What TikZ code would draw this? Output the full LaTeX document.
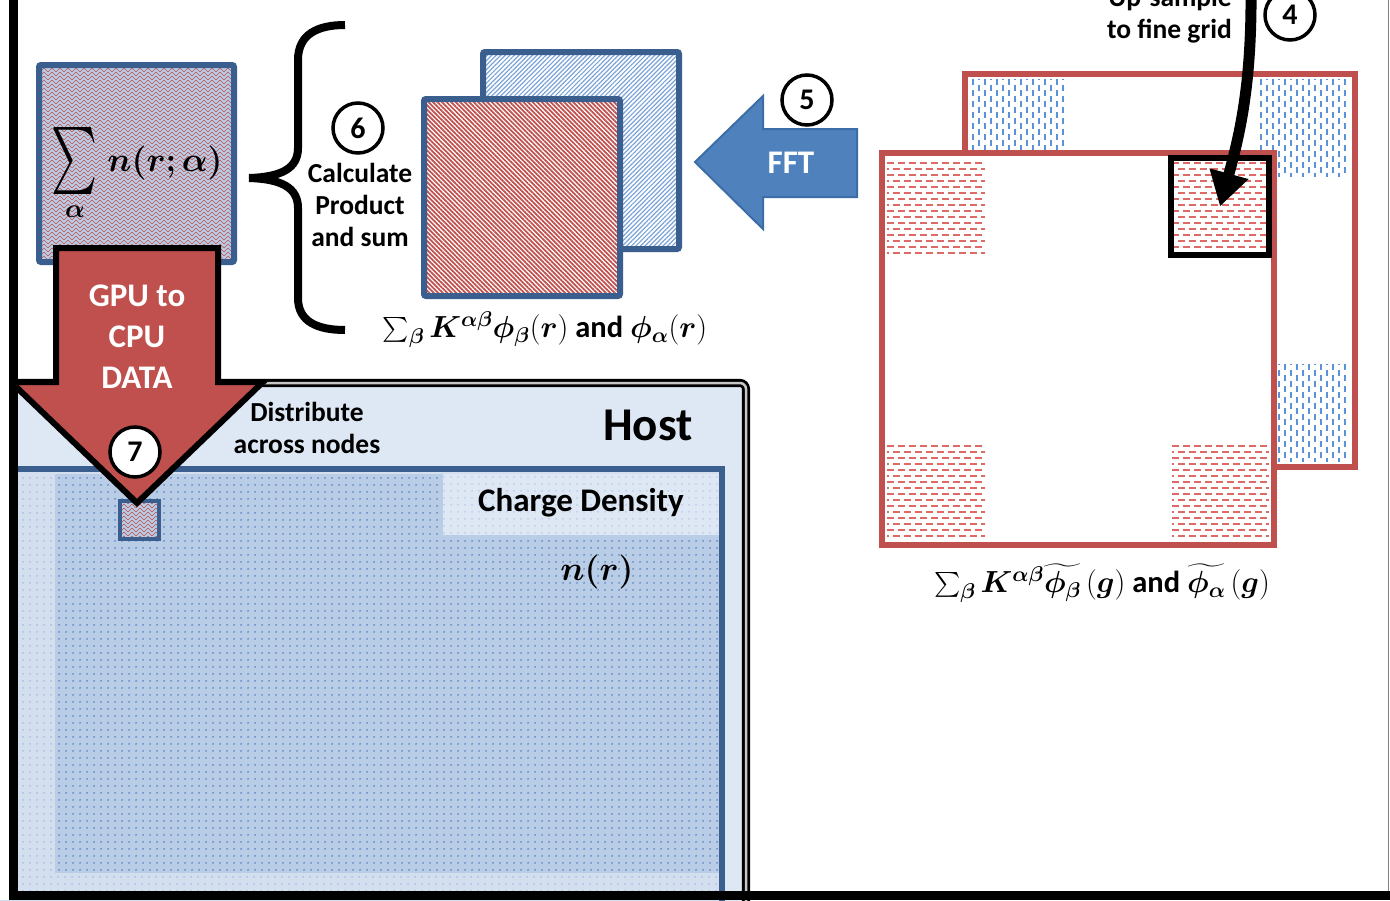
\RequirePackage{fix-cm}
\documentclass[tikz,border=0pt]{standalone}
\usepackage{amsmath,bm,graphicx}
\usepackage{fontspec}
\setmainfont{Carlito}
\usetikzlibrary{patterns,patterns.meta,arrows.meta}

\definecolor{cred}{HTML}{C0504D}
\definecolor{cblue}{HTML}{4F81BD}
\definecolor{cblueedge}{HTML}{3D6DA6}
\definecolor{cdark}{HTML}{3A5F8E}
\definecolor{clight}{HTML}{DEE8F4}
\definecolor{cstrip}{HTML}{D3DFEF}
\definecolor{cmid}{HTML}{B9CDE6}
\definecolor{cdot}{HTML}{5A84C4}
\definecolor{chatch}{HTML}{7BA3D8}
\definecolor{cdashblue}{HTML}{5B92D8}
\definecolor{cdashred}{HTML}{DD6A66}

% chevron rows for the mixed-density boxes
\pgfdeclarepatternformonly{herring}{\pgfqpoint{-1pt}{-1pt}}{\pgfqpoint{9pt}{9pt}}{\pgfqpoint{8pt}{8pt}}{%
  \pgfsetlinewidth{0.65pt}%
  \pgfpathmoveto{\pgfqpoint{0pt}{0pt}}\pgfpathlineto{\pgfqpoint{4pt}{4pt}}\pgfpathlineto{\pgfqpoint{8pt}{0pt}}%
  \pgfpathmoveto{\pgfqpoint{0pt}{4pt}}\pgfpathlineto{\pgfqpoint{4pt}{8pt}}\pgfpathlineto{\pgfqpoint{8pt}{4pt}}%
  \pgfusepath{stroke}}
% small dot grid
\pgfdeclarepatternformonly{bluedots}{\pgfqpoint{0pt}{0pt}}{\pgfqpoint{7pt}{7pt}}{\pgfqpoint{7pt}{7pt}}{%
  \pgfpathcircle{\pgfqpoint{3.5pt}{3.5pt}}{1.1pt}\pgfusepath{fill}}

% block of staggered short horizontal dashes: x1 y1 x2 y2
\newcommand\hdashbox[4]{%
  \foreach \k in {0,...,17}{%
    \pgfmathsetmacro\rowy{#2+3+6*\k}%
    \pgfmathsetmacro\rowph{mod(\k,2)*5.5}%
    \ifdim\rowy pt<#4pt
      \draw[cdashred, line width=1.4pt, dash pattern=on 7pt off 4pt, dash phase=\rowph pt]
        (#1,\rowy) -- (#3,\rowy);
    \fi}}
% block of staggered short vertical dashes: x1 y1 x2 y2
\newcommand\vdashbox[4]{%
  \foreach \k in {0,...,17}{%
    \pgfmathsetmacro\colx{#1+3+6*\k}%
    \pgfmathsetmacro\colph{mod(\k,2)*5.5}%
    \ifdim\colx pt<#3pt
      \draw[cdashblue, line width=1.4pt, dash pattern=on 6pt off 5pt, dash phase=\colph pt]
        (\colx,#2) -- (\colx,#4);
    \fi}}

\tikzset{
  stepnum/.style={circle, draw=black, line width=3.5pt, fill=white, minimum size=50pt,
    inner sep=0pt, font=\fontsize{30}{30}\selectfont\bfseries},
  lbl/.style={align=center, font=\fontsize{27.5}{32}\selectfont\bfseries, inner sep=0pt},
  mathlbl/.style={inner sep=0pt, font=\fontsize{30.5}{34}\selectfont},
  whitelbl/.style={align=center, font=\fontsize{33}{41}\selectfont\bfseries, text=white, inner sep=0pt},
  panelframe/.style={draw=cdark, line width=6pt, rounded corners=2pt},
  gridframe/.style={draw=cred, line width=6pt},
}

\begin{document}
\begin{tikzpicture}[x=1pt, y=-1pt, line join=miter]
\useasboundingbox (0,0) rectangle (1390,900);
\fill[white] (0,0) rectangle (1390,900);

% ---- host frame with the charge density panel ----
\draw[draw=black, line width=2.8pt, double=gray!45, double distance=2.5pt,
      rounded corners=6pt, fill=clight] (-20,383) rectangle (746,930);
\fill[cstrip] (-20,469) rectangle (722,920);
\fill[pattern=bluedots, pattern color=cdot!55] (-20,469) rectangle (722,920);
\fill[cmid] (55,474) rectangle (719,873);
\fill[pattern=bluedots, pattern color=cdot] (55,474) rectangle (719,873);
\fill[clight] (443,474) rectangle (719,535);
\fill[pattern=bluedots, pattern color=cdot!40] (443,474) rectangle (719,535);
\draw[cdark, line width=6pt] (-20,469) -- (722,469) -- (722,930);

\node[font=\fontsize{47}{50}\selectfont\bfseries, inner sep=0pt] (host) at (648,425) {Host};
\node[lbl] (distribute) at (307,428) {Distribute\\across nodes};
\node[font=\fontsize{33}{36}\selectfont\bfseries, inner sep=0pt] (charge) at (581,503) {Charge Density};
\node[font=\fontsize{34}{40}\selectfont, inner sep=0pt] (nr) at (597,572) {$\bm{n(r)}$};

% local density block inside the panel
\fill[cmid] (120,501) rectangle (159,539);
\fill[pattern=herring, pattern color=cred] (120,501) rectangle (159,539);
\draw[cdark, line width=4pt] (120,501) rectangle (159,539);

% ---- summed density on the GPU ----
\fill[cmid] (39,65) rectangle (234,262);
\fill[pattern=herring, pattern color=cred] (39,65) rectangle (234,262);
\draw[panelframe] (39,65) rectangle (234,262);
\node[inner sep=0pt] (sigma) at (75,161) {\resizebox*{46pt}{67pt}{$\sum$}};
\node[font=\fontsize{26}{30}\selectfont, inner sep=0pt] (sigmaidx) at (75,212) {$\bm{\alpha}$};
\node[font=\fontsize{34}{40}\selectfont, inner sep=0pt] (nra) at (165,163) {$\bm{n(r;\alpha)}$};

% ---- brace and step 6 ----
\draw[line width=8pt] (345,25) .. controls (318,25) and (298,34) .. (298,60) -- (298,148)
  .. controls (298,168) and (282,177) .. (249,178)
  .. controls (282,179) and (298,188) .. (298,208) -- (298,298)
  .. controls (298,322) and (318,330) .. (345,330);
\node[lbl] (calc) at (360,205) {Calculate\\Product\\and sum};

% ---- real-space potentials ----
\fill[white] (483,52) rectangle (679,249);
\fill[pattern={Lines[angle=45,distance=3.2pt,line width=1.2pt]}, pattern color=chatch] (483,52) rectangle (679,249);
\draw[panelframe] (483,52) rectangle (679,249);
\fill[white] (424,99) rectangle (620,296);
\fill[pattern={Lines[angle=-45,distance=3.2pt,line width=1.75pt]}, pattern color=cred] (424,99) rectangle (620,296);
\draw[panelframe] (424,99) rectangle (620,296);
\node[mathlbl] (reallbl) at (545,330)
  {$\sum_{\bm\beta}\bm{K}^{\bm{\alpha\beta}}\bm{\phi}_{\bm\beta}(\bm{r})$ \textbf{and} $\bm{\phi}_{\bm\alpha}(\bm{r})$};

% ---- FFT block arrow ----
\draw[fill=cblue, draw=cblueedge, line width=2pt]
  (857,129) -- (763,129) -- (763,96) -- (695,162) -- (763,229) -- (763,197) -- (857,197) -- cycle;
\node[whitelbl] (fft) at (791,163) {FFT};

% ---- reciprocal-space grids ----
\fill[white] (965,74) rectangle (1355,467);
\vdashbox{970}{79}{1066}{177}
\vdashbox{1258}{79}{1350}{177}
\vdashbox{1258}{364}{1350}{462}
\vdashbox{970}{364}{1066}{462}
\draw[gridframe] (965,74) rectangle (1355,467);

\fill[white] (882,153) rectangle (1274,545);
\hdashbox{887}{160}{985}{258}
\hdashbox{1172}{160}{1269}{253}
\hdashbox{887}{443}{985}{540}
\hdashbox{1172}{443}{1269}{540}
\draw[gridframe] (882,153) rectangle (1274,545);

\node[draw=black, line width=5.5pt, minimum width=98pt, minimum height=97pt, inner sep=0pt]
  (finebox) at (1220,206.5) {};
\node[mathlbl] (reciplbl) at (1102,583)
  {$\sum_{\bm\beta}\bm{K}^{\bm{\alpha\beta}}\widetilde{\bm{\phi}_{\bm\beta}}\,(\bm{g})$ \textbf{and} $\widetilde{\bm{\phi}_{\bm\alpha}}\,(\bm{g})$};

% ---- up-sampling arrow (step 4) ----
\coordinate (upsrc) at (1251,-15);
\draw[line width=11pt, -{Triangle[length=34pt,width=38pt]}]
  (upsrc) .. controls (1252,80) and (1241,130) .. (finebox.center);
\node[lbl, align=right, anchor=east] (upsample) at (1232,15) {Up-sample\\to fine grid};

% ---- GPU to CPU block arrow (step 7) ----
\draw[fill=cred, draw=black, line width=6pt]
  (56,248) -- (218,248) -- (218,382) -- (263,382) -- (137,503) -- (11,382) -- (56,382) -- cycle;
\node[whitelbl] (gpu) at (137,337) {GPU to\\CPU\\DATA};

% ---- step markers ----
\node[stepnum] (s4) at (1290,15) {4};
\node[stepnum] (s5) at (807,100) {5};
\node[stepnum] (s6) at (358,128) {6};
\node[stepnum] (s7) at (135,452) {7};

% ---- page edges ----
\fill[white] (0,0) rectangle (9,900);
\fill[black] (9,0) rectangle (18,900);
\fill[black] (9,891) rectangle (1390,900);
\draw[gray, line width=1pt] (1388,0) -- (1388,891);
\end{tikzpicture}
\end{document}
